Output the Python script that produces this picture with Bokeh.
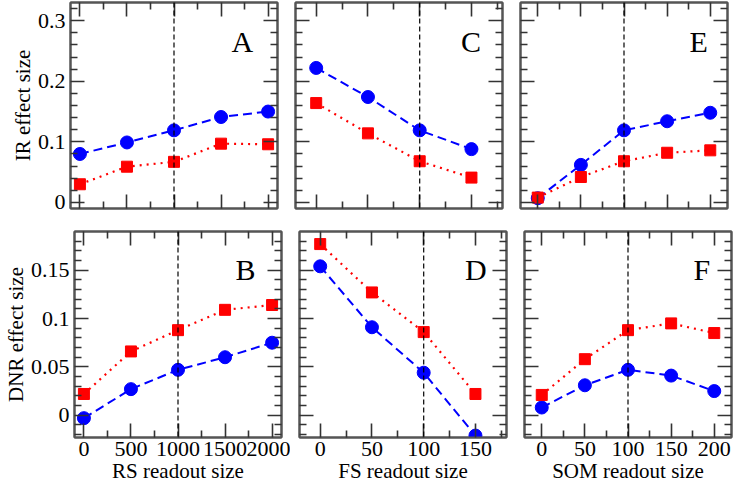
from bokeh.plotting import figure
from bokeh.layouts import column, row
from bokeh.models import LinearAxis, FixedTicker, Span, Label, Range1d, CustomJSTickFormatter
from bokeh.embed import file_html
from bokeh.resources import INLINE

# ---------------- data ----------------
rs_sizes = [0, 500, 1000, 1500, 2000]
fs_sizes = [0, 50, 100, 150]
som_sizes = [0, 50, 100, 150, 200]

ir_rs_blue = [0.080, 0.099, 0.119, 0.141, 0.150]
ir_rs_red = [0.030, 0.059, 0.067, 0.097, 0.096]
ir_fs_blue = [0.222, 0.174, 0.119, 0.088]
ir_fs_red = [0.164, 0.114, 0.068, 0.041]
ir_som_blue = [0.007, 0.062, 0.119, 0.134, 0.148]
ir_som_red = [0.008, 0.042, 0.068, 0.082, 0.086]

dnr_rs_blue = [-0.003, 0.027, 0.047, 0.060, 0.075]
dnr_rs_red = [0.022, 0.066, 0.088, 0.109, 0.114]
dnr_fs_blue = [0.154, 0.091, 0.044, -0.021]
dnr_fs_red = [0.177, 0.127, 0.086, 0.022]
dnr_som_blue = [0.008, 0.031, 0.047, 0.041, 0.025]
dnr_som_red = [0.021, 0.058, 0.088, 0.095, 0.085]

ref_sizes = [1000, 100, 100]
panel_letters_top = ["A", "C", "E"]
panel_letters_bottom = ["B", "D", "F"]
x_titles = ["RS readout size", "FS readout size", "SOM readout size"]
y_titles = ["IR effect size", "DNR effect size"]

rs_ticks = [0, 500, 1000, 1500, 2000]
rs_minor = [250, 750, 1250, 1750]
fs_ticks = [0, 50, 100, 150]
fs_minor = [25, 75, 125, 175]
som_ticks = [0, 50, 100, 150, 200]
som_minor = [25, 75, 125, 175]
ir_ticks = [0, 0.1, 0.2, 0.3]
ir_minor = [0.02, 0.04, 0.06, 0.08, 0.12, 0.14, 0.16, 0.18, 0.22, 0.24, 0.26, 0.28, 0.32]
dnr_ticks = [0, 0.05, 0.1, 0.15]
dnr_minor = [-0.02, -0.01, 0.01, 0.02, 0.03, 0.04, 0.06, 0.07, 0.08, 0.09,
             0.11, 0.12, 0.13, 0.14, 0.16, 0.17, 0.18]

x_ranges = [(-100, 2100), (-20, 180), (-20, 220)]
y_ranges = [(-0.01, 0.33), (-0.023, 0.19)]
letter_x = [1610, 140, 176]
letter_y = [0.266, 0.1505]

FONT = "Liberation Serif"
FRAME_COL = "#555555"
TICK_COL = "#333333"

fmt = CustomJSTickFormatter(code="return String(Math.round(tick*10000)/10000);")


def style_axis(ax, ticks, minor, show_labels, title=None):
    ax.ticker = FixedTicker(ticks=ticks, minor_ticks=minor)
    ax.formatter = fmt
    ax.major_tick_in = 14
    ax.major_tick_out = 0
    ax.minor_tick_in = 7
    ax.minor_tick_out = 0
    ax.major_tick_line_color = TICK_COL
    ax.major_tick_line_width = 1.6
    ax.minor_tick_line_color = TICK_COL
    ax.minor_tick_line_width = 1.6
    ax.axis_line_color = FRAME_COL
    ax.axis_line_width = 2
    ax.major_label_text_font = FONT
    if show_labels:
        ax.major_label_text_color = "black"
        ax.major_label_text_font_size = "22px"
        ax.major_label_standoff = 5
    else:
        ax.major_label_text_color = None
        ax.major_label_text_font_size = "1px"
        ax.major_label_standoff = 0
    if title:
        ax.axis_label = title
        ax.axis_label_text_font = FONT
        ax.axis_label_text_font_size = "21px"
        ax.axis_label_text_font_style = "normal"
        ax.axis_label_text_color = "black"
        ax.axis_label_standoff = 0


x_data = [rs_sizes, fs_sizes, som_sizes]
x_ticks = [(rs_ticks, rs_minor), (fs_ticks, fs_minor), (som_ticks, som_minor)]
y_ticks = [(ir_ticks, ir_minor), (dnr_ticks, dnr_minor)]
blues = [[ir_rs_blue, ir_fs_blue, ir_som_blue], [dnr_rs_blue, dnr_fs_blue, dnr_som_blue]]
reds = [[ir_rs_red, ir_fs_red, ir_som_red], [dnr_rs_red, dnr_fs_red, dnr_som_red]]
letters = [panel_letters_top, panel_letters_bottom]

borders_lr = [(70, 9), (9, 9), (9, 3)]
borders_tb = [(2, 11), (12, 52)]

rows = []
for r in range(2):
    figs = []
    for c in range(3):
        p = figure(x_range=Range1d(*x_ranges[c]), y_range=Range1d(*y_ranges[r]),
                   frame_width=207, frame_height=206,
                   output_backend="svg", toolbar_location=None,
                   min_border_left=borders_lr[c][0], min_border_right=borders_lr[c][1],
                   min_border_top=borders_tb[r][0], min_border_bottom=borders_tb[r][1])
        p.xgrid.visible = False
        p.ygrid.visible = False
        p.outline_line_color = FRAME_COL
        p.outline_line_width = 2
        p.background_fill_color = "white"
        p.border_fill_color = "white"

        style_axis(p.xaxis[0], *x_ticks[c], show_labels=(r == 1),
                   title=x_titles[c] if r == 1 else None)
        if r == 1:
            p.xaxis[0].major_label_standoff = 4
        style_axis(p.yaxis[0], *y_ticks[r], show_labels=(c == 0),
                   title=y_titles[r] if c == 0 else None)
        top_ax = LinearAxis()
        style_axis(top_ax, *x_ticks[c], show_labels=False)
        p.add_layout(top_ax, "above")
        right_ax = LinearAxis()
        style_axis(right_ax, *y_ticks[r], show_labels=False)
        p.add_layout(right_ax, "right")

        p.add_layout(Span(location=ref_sizes[c], dimension="height", line_color="black",
                          line_dash="5 3", line_width=1.2))

        p.line(x_data[c], blues[r][c], line_color="blue", line_dash="9 5", line_width=2)
        p.scatter(x_data[c], blues[r][c], marker="circle", size=13,
                  fill_color="blue", line_color="blue")
        p.line(x_data[c], reds[r][c], line_color="red", line_dash="2 5", line_width=2.2)
        p.scatter(x_data[c], reds[r][c], marker="square", size=11,
                  fill_color="red", line_color="red")

        p.add_layout(Label(x=letter_x[c], y=letter_y[r], text=letters[r][c],
                           text_font=FONT, text_font_size="30px", text_color="black",
                           text_baseline="alphabetic", text_align="left"))
        figs.append(p)
    rows.append(row(*figs))

layout = column(*rows)
open("out.html", "w").write(file_html(layout, INLINE))
